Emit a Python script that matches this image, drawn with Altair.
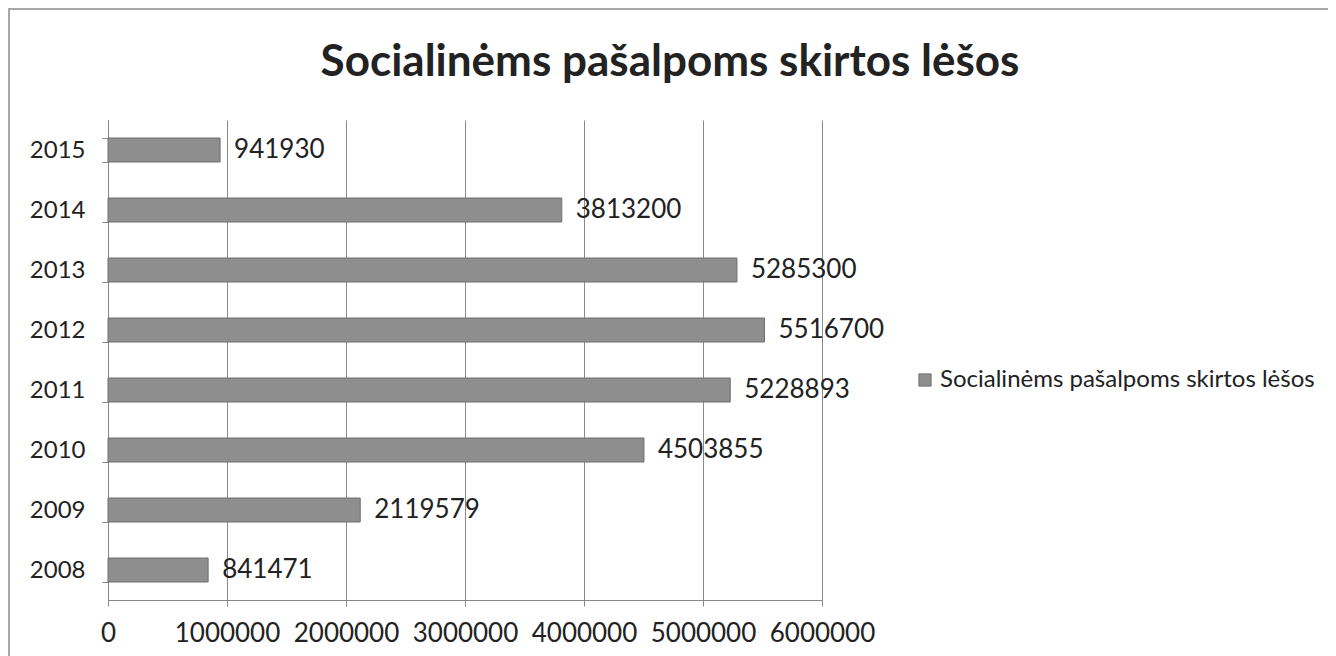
import altair as alt
import pandas as pd

years = ["2008", "2009", "2010", "2011", "2012", "2013", "2014", "2015"]
values = [841471, 2119579, 4503855, 5228893, 5516700, 5285300, 3813200, 941930]
series_name = "Socialinėms pašalpoms skirtos lėšos"
x_ticks = [0, 1000000, 2000000, 3000000, 4000000, 5000000, 6000000]

df = pd.DataFrame({"year": years, "value": values, "series": [series_name] * len(years)})

FONT = "Lato"
W, H = 714, 480

y_enc = alt.Y("year:N", sort="descending",
              scale=alt.Scale(paddingInner=0.6, paddingOuter=0.3),
              axis=alt.Axis(title=None, tickBand="extent", tickSize=6, tickColor="#888888",
                            domainColor="#888888", labelFontSize=24, labelPadding=17,
                            labelColor="#222222", labelFont=FONT, grid=False))
x_enc = alt.X("value:Q", scale=alt.Scale(domain=[0, 6000000], nice=False),
              axis=alt.Axis(title=None, values=x_ticks, format="d", tickSize=6,
                            tickColor="#888888", domainColor="#888888", gridColor="#8a8a8a",
                            gridOpacity=1, labelFontSize=26, labelPadding=14,
                            labelColor="#222222", labelFont=FONT, labelFlush=False))

frame = alt.Chart(pd.DataFrame({"a": [0]})).mark_rect(
    fill=None, stroke="#8a8a8a", strokeWidth=1.5, clip=False
).encode(x=alt.value(-99), x2=alt.value(1300), y=alt.value(-111), y2=alt.value(700))

title = alt.Chart(pd.DataFrame({"t": [series_name]})).mark_text(
    align="center", baseline="alphabetic", fontSize=44, font=FONT, fontWeight="bold",
    color="#222222", clip=False
).encode(x=alt.value(562), y=alt.value(-44), text="t:N")

bars = alt.Chart(df).mark_bar(stroke="#6f6f6f", strokeWidth=1).encode(
    x=x_enc, y=y_enc,
    color=alt.Color("series:N", scale=alt.Scale(range=["#8e8e8e"]),
                    legend=alt.Legend(title=None, orient="none", legendX=805, legendY=248,
                                      symbolType="square", symbolSize=150,
                                      symbolStrokeColor="#6f6f6f", symbolStrokeWidth=1,
                                      labelFontSize=24, labelFont=FONT, labelColor="#222222",
                                      labelOffset=3, labelLimit=600)),
)

labels = alt.Chart(df).mark_text(align="left", baseline="middle", dx=14, fontSize=26,
                                 font=FONT, color="#222222").encode(
    x="value:Q", y=alt.Y("year:N", sort="descending"), text=alt.Text("value:Q", format="d"))

chart = alt.layer(frame, bars, labels, title).properties(
    width=W, height=H,
    background="white",
    padding={"left": 100, "top": 112, "right": 506, "bottom": 56},
    autosize=alt.AutoSizeParams(type="none"),
).configure_view(stroke=None)

chart.save("out.html", embed_options={"renderer": "svg", "actions": False})
